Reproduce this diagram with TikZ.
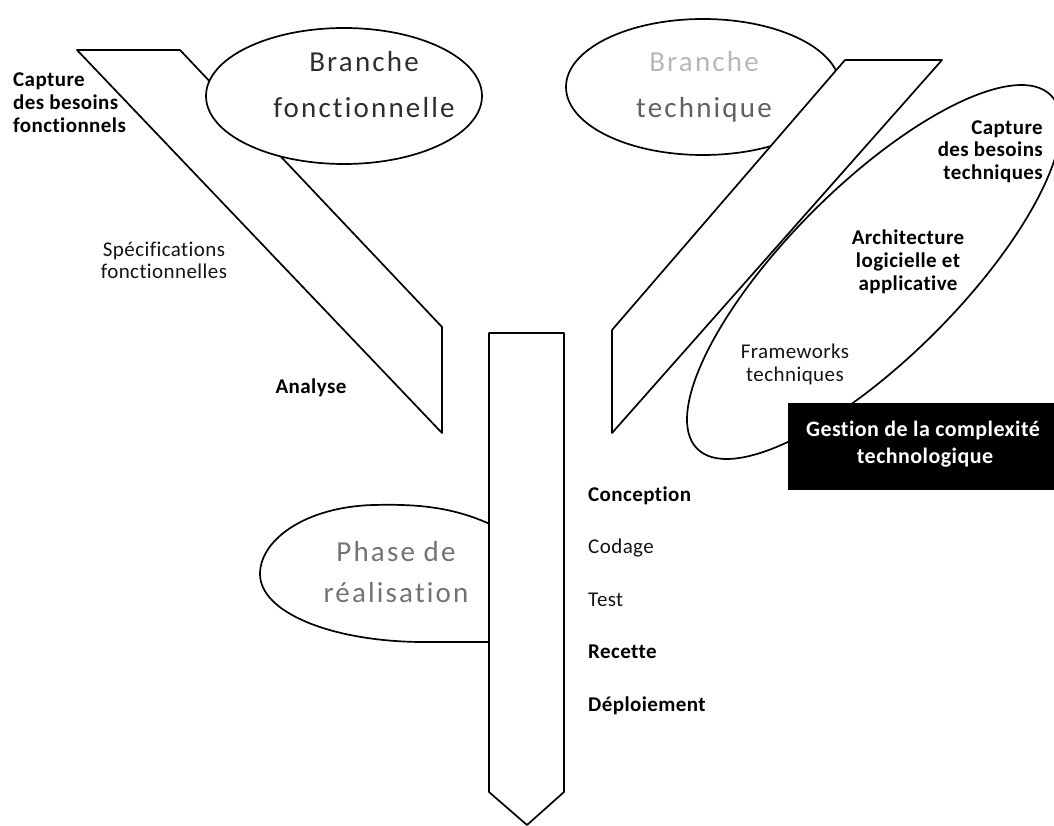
\documentclass[tikz,border=0pt]{standalone}
\usepackage{fontspec}
\setmainfont{Carlito}[Ligatures=NoCommon]
\newfontfamily\titlefont[LetterSpace=7.5,Ligatures=NoCommon]{Carlito}
\newfontfamily\notefont[LetterSpace=2,Ligatures=NoCommon]{Carlito}
\begin{document}
\begin{tikzpicture}[x=1pt,y=-1pt,
  outline/.style={draw=black, line width=1.7pt, line join=round},
  bubble/.style={outline, fill=white},
  big/.style={inner sep=0, anchor=base, font=\titlefont\fontsize{29}{34}\selectfont},
  note/.style={inner sep=0, font=\notefont\fontsize{21}{22.5}\selectfont, text=black!92},
  noteb/.style={inner sep=0, font=\notefont\bfseries\fontsize{21}{22.5}\selectfont, text=black},
  boxtext/.style={inner sep=0, anchor=base, font=\notefont\bfseries\fontsize{22}{28}\selectfont, text=white},
]
\useasboundingbox (0,0) rectangle (1054,826);

% functional branch: slanted band with its ellipse on top
\draw[bubble] (77,50) -- (180,50) -- (442,327) -- (442,433) -- cycle;
\draw[bubble] (344,96) ellipse [x radius=138, y radius=68];
\node[big, text=black!82] (bf1) at (364,72) {Branche};
\node[big, text=black!82] (bf2) at (364,118) {fonctionnelle};

% technical branch: ellipse partly hidden by its slanted band
\draw[bubble] (703,87) ellipse [x radius=137, y radius=68];
\draw[bubble] (845,60) -- (942,60) -- (612,433) -- (612,330) -- cycle;
\node[big, text=black!28] (bt1) at (704,72) {Branche};
\node[big, text=black!62] (bt2) at (704,118) {technique};

% tilted ellipse grouping the technical steps, with the black box over it
\draw[outline, rotate around={45:(874,272)}] (874,272) ellipse [x radius=250, y radius=86];
\node[fill=black, inner sep=0, minimum width=266, minimum height=87, anchor=north west] (gestion) at (788,403) {};
\node[boxtext] (g1) at (923,436) {Gestion de la complexité};
\node[boxtext] (g2) at (925,463) {technologique};

% realisation phase: rounded tab tucked behind the central arrow
\draw[bubble] (498,528) .. controls (455,506) and (415,504) .. (373,505)
  .. controls (305,507) and (260,540) .. (260,574)
  .. controls (260,612) and (330,641) .. (420,642) -- (498,642) -- cycle;
\draw[bubble] (489,333) -- (564,333) -- (564,792) -- (527,825) -- (489,792) -- cycle;
\node[big, text=black!55] (ph1) at (396,561) {Phase de};
\node[big, text=black!55] (ph2) at (396,602) {réalisation};

% functional steps
\node[noteb, anchor=base west] (cf1) at (13,87) {Capture};
\node[noteb, anchor=base west] (cf2) at (13,110) {des besoins};
\node[noteb, anchor=base west] (cf3) at (13,133) {fonctionnels};
\node[note, anchor=base] (sf1) at (164,257) {Spécifications};
\node[note, anchor=base] (sf2) at (164,279) {fonctionnelles};
\node[noteb, anchor=base] (an) at (311,393) {Analyse};

% technical steps
\node[noteb, anchor=base east] (ct1) at (1043,135) {Capture};
\node[noteb, anchor=base east] (ct2) at (1043,157) {des besoins};
\node[noteb, anchor=base east] (ct3) at (1043,180) {techniques};
\node[noteb, anchor=base] (ar1) at (908,244) {Architecture};
\node[noteb, anchor=base] (ar2) at (908,267) {logicielle et};
\node[noteb, anchor=base] (ar3) at (908,290) {applicative};
\node[note, anchor=base] (fw1) at (795,358) {Frameworks};
\node[note, anchor=base] (fw2) at (795,381) {techniques};

% realisation steps
\node[noteb, anchor=base west] (s1) at (588,501) {Conception};
\node[note, anchor=base west] (s2) at (588,553.5) {Codage};
\node[note, anchor=base west] (s3) at (588,606) {Test};
\node[noteb, anchor=base west] (s4) at (588,658.5) {Recette};
\node[noteb, anchor=base west] (s5) at (588,711) {Déploiement};
\end{tikzpicture}
\end{document}
